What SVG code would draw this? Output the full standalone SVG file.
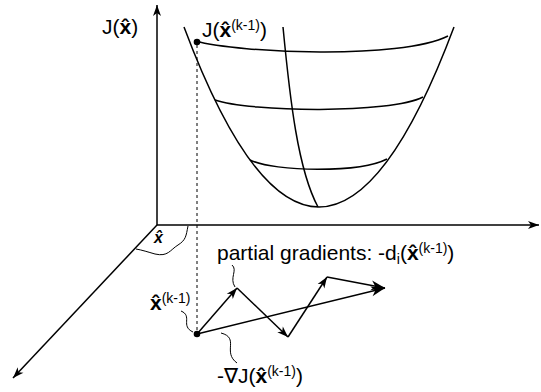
<svg xmlns="http://www.w3.org/2000/svg" width="541" height="392" viewBox="0 0 541 392">
<style>
.ln{fill:none;stroke:#000;stroke-width:1.5}
.thin{fill:none;stroke:#000;stroke-width:1}
.dash{fill:none;stroke:#000;stroke-width:1;stroke-dasharray:3,3}
.t{font-family:"Liberation Sans",Arial,sans-serif;font-size:21px;fill:#000}
.b{font-weight:bold}
.sup{font-size:14px}
</style>
<defs>
<marker id="ah" markerUnits="userSpaceOnUse" markerWidth="12" markerHeight="10" refX="11" refY="4" orient="auto" overflow="visible">
<path d="M0,0 L11,4 L0,8 L3,4 z" fill="#000"/>
</marker>
<marker id="ahL" markerUnits="userSpaceOnUse" markerWidth="16" markerHeight="12" refX="14" refY="5" orient="auto" overflow="visible">
<path d="M0,0 L14,5 L0,10 L4,5 z" fill="#000"/>
</marker>
</defs>
<rect width="541" height="392" fill="#fff"/>
<g id="axes">
<line class="ln" x1="157" y1="225" x2="157" y2="5" marker-end="url(#ah)"/>
<line class="ln" x1="157" y1="225" x2="539" y2="225" marker-end="url(#ah)"/>
<line class="ln" x1="157" y1="225" x2="13" y2="378" marker-end="url(#ah)"/>
</g>
<g id="surface">
<path class="ln" d="M184,27 Q319,387 454,27"/>
<path class="ln" d="M195,41 C240,53 400,60 448,36"/>
<path class="ln" d="M215,100 C250,112 390,114 423,97"/>
<path class="ln" d="M250,160 C275,172 360,173 387,159"/>
<path class="ln" d="M283,27 C290,100 298,170 318,207"/>
</g>
<g id="point-top">
<circle cx="197" cy="42" r="3.3" fill="#000"/>
</g>
<g id="point-start">
<circle cx="197" cy="334" r="3.3" fill="#000"/>
</g>
<g id="connectors">
<line class="dash" x1="197" y1="45" x2="197" y2="331"/>
<line class="ln" x1="197" y1="334" x2="237" y2="288" marker-end="url(#ah)"/>
<line class="ln" x1="237" y1="288" x2="288" y2="337" marker-end="url(#ah)"/>
<line class="ln" x1="288" y1="337" x2="327" y2="277" marker-end="url(#ah)"/>
<line class="ln" x1="327" y1="277" x2="385" y2="288" marker-end="url(#ahL)"/>
<line class="ln" x1="197" y1="334" x2="385" y2="288" marker-end="url(#ahL)"/>
<path class="thin" d="M188,226 C186,236 186,240 178,245 C170,250 168,257 155,254 C148,252 142,250 136,249"/>
<path class="thin" d="M181,311 C193,316 180,326 193,332"/>
<path class="thin" d="M232,265 C238,270 229,278 235,287"/>
<path class="thin" d="M221,333 C240,338 222,352 237,363"/>
</g>
<g id="label-J">
<text class="t" x="102" y="34">J(<tspan class="b">x̂</tspan>)</text>
</g>
<g id="label-Jk">
<text class="t" x="202" y="37">J(<tspan class="b">x̂</tspan><tspan class="sup" dy="-7">(k-1)</tspan><tspan dy="7">)</tspan></text>
</g>
<g id="label-x">
<text class="t b" x="154" y="243" style="font-style:italic;font-size:16px">x̂</text>
</g>
<g id="label-partial">
<text class="t" x="217" y="260">partial gradients: -d<tspan class="sup" dy="4">i</tspan><tspan dy="-4">(</tspan><tspan class="b">x̂</tspan><tspan class="sup" dy="-7">(k-1)</tspan><tspan dy="7">)</tspan></text>
</g>
<g id="label-xk">
<text class="t" x="150" y="310"><tspan class="b">x̂</tspan><tspan class="sup" dy="-7">(k-1)</tspan></text>
</g>
<g id="label-grad">
<text class="t" x="217" y="383">-∇J(<tspan class="b">x̂</tspan><tspan class="sup" dy="-7">(k-1)</tspan><tspan dy="7">)</tspan></text>
</g>
</svg>
